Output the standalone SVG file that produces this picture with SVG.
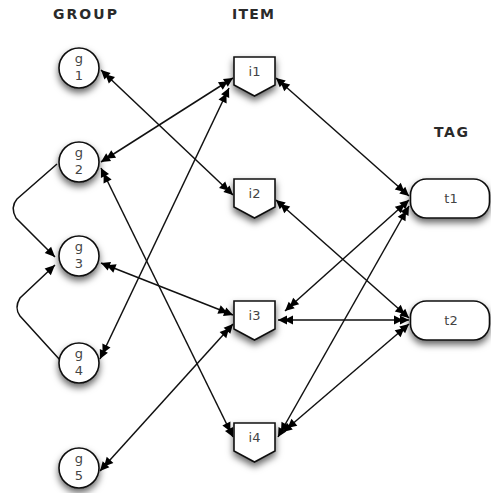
<svg xmlns="http://www.w3.org/2000/svg" width="491" height="493" viewBox="0 0 491 493">
<style>
.hdr{font-family:"DejaVu Sans","Liberation Sans",sans-serif;font-weight:bold;font-size:14px;fill:#2a2a2a}
.lbl{font-family:"DejaVu Sans","Liberation Sans",sans-serif;font-size:13px;fill:#444;text-anchor:middle}
.node{fill:#fff;stroke:#111;stroke-width:1.6}
.edge{fill:none;stroke:#111;stroke-width:1.5;marker-start:url(#dbl);marker-end:url(#dbl)}
.curve{fill:none;stroke:#111;stroke-width:1.5;marker-end:url(#sgl)}
</style>
<defs>
<filter id="sh" x="-50%" y="-40%" width="200%" height="200%">
<feDropShadow dx="0" dy="4" stdDeviation="3.5" flood-color="#000" flood-opacity="0.6"/>
</filter>
<marker id="dbl" viewBox="-17 -6 18 12" refX="0" refY="0" markerWidth="18" markerHeight="12" markerUnits="userSpaceOnUse" orient="auto-start-reverse">
<path d="M0,0 L-9,-4.5 L-9,4.5 Z M-6,0 L-15,-4.5 L-15,4.5 Z" fill="#000"/>
</marker>
<marker id="sgl" viewBox="-11 -6 12 12" refX="0" refY="0" markerWidth="12" markerHeight="12" markerUnits="userSpaceOnUse" orient="auto">
<path d="M0,0 L-10,-4.5 L-10,4.5 Z" fill="#000"/>
</marker>
</defs>
<rect width="491" height="493" fill="#fff"/>
<g id="headers">
<text class="hdr" x="53" y="19" textLength="64" lengthAdjust="spacing">GROUP</text>
<text class="hdr" x="232" y="19" textLength="42" lengthAdjust="spacing">ITEM</text>
<text class="hdr" x="434" y="137" textLength="34" lengthAdjust="spacing">TAG</text>
</g>
<g id="connectors">
<line class="edge" x1="101" y1="70" x2="233" y2="195"/>
<line class="edge" x1="101" y1="162" x2="233" y2="78"/>
<line class="edge" x1="229" y1="88" x2="100" y2="359"/>
<line class="edge" x1="101" y1="168" x2="233" y2="437"/>
<line class="edge" x1="101" y1="263" x2="233" y2="315"/>
<line class="edge" x1="100" y1="471" x2="233" y2="324"/>
<line class="edge" x1="276" y1="78" x2="409" y2="196"/>
<line class="edge" x1="276" y1="200" x2="409" y2="318"/>
<line class="edge" x1="285" y1="311" x2="409" y2="200"/>
<line class="edge" x1="278" y1="320" x2="409" y2="320"/>
<line class="edge" x1="278" y1="437" x2="409" y2="206"/>
<line class="edge" x1="283" y1="432" x2="409" y2="324"/>
<path class="curve" d="M57,164 L17,199 Q10,207 16,218 L55,257"/>
<path class="curve" d="M60,360 L20,316 Q14,308 20,298 L55,265"/>
</g>
<g id="g1"><circle class="node" filter="url(#sh)" cx="79" cy="68" r="20"/><text class="lbl" x="79" y="63">g</text><text class="lbl" x="79" y="80">1</text></g>
<g id="g2"><circle class="node" filter="url(#sh)" cx="79" cy="162" r="20"/><text class="lbl" x="79" y="157">g</text><text class="lbl" x="79" y="174">2</text></g>
<g id="g3"><circle class="node" filter="url(#sh)" cx="79" cy="256" r="20"/><text class="lbl" x="79" y="251">g</text><text class="lbl" x="79" y="268">3</text></g>
<g id="g4"><circle class="node" filter="url(#sh)" cx="79" cy="363" r="20"/><text class="lbl" x="79" y="358">g</text><text class="lbl" x="79" y="375">4</text></g>
<g id="g5"><circle class="node" filter="url(#sh)" cx="79" cy="468" r="20"/><text class="lbl" x="79" y="463">g</text><text class="lbl" x="79" y="480">5</text></g>
<g id="i1"><path class="node" filter="url(#sh)" d="M234,57 H275 V85 L254.5,96 L234,85 Z"/><text class="lbl" x="254.5" y="76">i1</text></g>
<g id="i2"><path class="node" filter="url(#sh)" d="M234,179 H275 V207 L254.5,218 L234,207 Z"/><text class="lbl" x="254.5" y="198">i2</text></g>
<g id="i3"><path class="node" filter="url(#sh)" d="M234,301 H275 V329 L254.5,340 L234,329 Z"/><text class="lbl" x="254.5" y="320">i3</text></g>
<g id="i4"><path class="node" filter="url(#sh)" d="M234,423 H275 V451 L254.5,462 L234,451 Z"/><text class="lbl" x="254.5" y="442">i4</text></g>
<g id="t1"><rect class="node" filter="url(#sh)" x="410.5" y="179" width="79" height="39" rx="16" ry="16"/><text class="lbl" x="451" y="203">t1</text></g>
<g id="t2"><rect class="node" filter="url(#sh)" x="410.5" y="301" width="79" height="39" rx="16" ry="16"/><text class="lbl" x="451" y="325">t2</text></g>
</svg>
